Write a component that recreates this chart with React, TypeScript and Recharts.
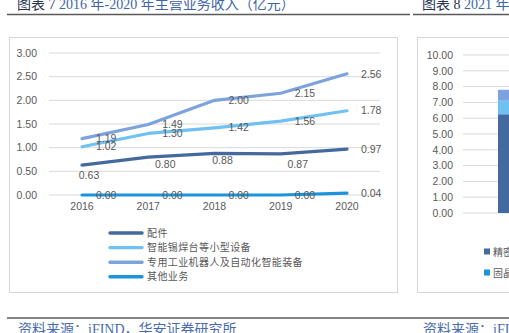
import React from 'react';
import { LineChart, Line, XAxis, YAxis, CartesianGrid, BarChart, Bar } from 'recharts';

const years = ['2016', '2017', '2018', '2019', '2020'];
const peijian = [0.63, 0.8, 0.88, 0.87, 0.97];
const xiaoxing = [1.02, 1.3, 1.42, 1.56, 1.78];
const jiqiren = [1.19, 1.49, 2.0, 2.15, 2.56];
const qita = [0.0, 0.0, 0.0, 0.0, 0.04];
const yTicks = [0, 0.5, 1, 1.5, 2, 2.5, 3];

const seriesNames = ['配件', '智能锡焊台等小型设备', '专用工业机器人及自动化智能装备', '其他业务'];
const seriesKeys = ['peijian', 'xiaoxing', 'jiqiren', 'qita'];
const seriesColors = ['#44699E', '#6EC1F2', '#7DA3DE', '#1C94DB'];

// right (partially visible) chart
const rightCategory = ['2021H1'];
const rightA = [6.25];
const rightB = [0.85];
const rightC = [0.7];
const rightTicks = [0, 1, 2, 3, 4, 5, 6, 7, 8, 9, 10];
const rightLegend = ['精密焊接设备', '固晶设备'];

const data = years.map((y, i) => ({
  year: y,
  peijian: peijian[i],
  xiaoxing: xiaoxing[i],
  jiqiren: jiqiren[i],
  qita: qita[i],
}));

const rightData = rightCategory.map((c, i) => ({ cat: c, a: rightA[i], b: rightB[i], c: rightC[i] }));

const TXT = '#595959';
const NUMFONT = '"Liberation Sans", Arial, sans-serif';
const CJK = '"Liberation Serif", "Noto Sans CJK SC", serif';

// label offsets for the 配件 series (below the line), index-based
const peijianOffsets: [number, number][] = [[7, 10], [17, 7], [8, 7], [17, 11]];

const makeLabel = (below: boolean) => (props: any) => {
  const { x, y, value, index } = props;
  const txt = Number(value).toFixed(2);
  if (below && index < peijianOffsets.length) {
    const [dx, dy] = peijianOffsets[index];
    return (
      <text key={index} x={x + dx} y={y + dy} dy="0.35em" textAnchor="middle" fontSize={10.5} fill={TXT} fontFamily={NUMFONT}>
        {txt}
      </text>
    );
  }
  return (
    <text key={index} x={x + 14} y={y} dy="0.35em" textAnchor="start" fontSize={10.5} fill={TXT} fontFamily={NUMFONT}>
      {txt}
    </text>
  );
};

export default function App() {
  return (
    <div style={{ position: 'absolute', left: 0, top: 0, width: 509, height: 333, overflow: 'hidden', background: '#fff' }}>
      {/* boxes */}
      <div style={{ position: 'absolute', left: 9, top: 37, width: 387, height: 254, border: '1px solid #D6D6D6' }} />
      <div style={{ position: 'absolute', left: 417, top: 37, width: 200, height: 254, border: '1px solid #D6D6D6' }} />

      <div style={{ position: 'absolute', left: 9, top: 37 }}>
        <LineChart width={389} height={256} data={data} margin={{ top: 16, right: 18, left: 0, bottom: 68 }}>
          <CartesianGrid vertical={false} stroke="#D9D9D9" strokeWidth={1} />
          <XAxis
            dataKey="year"
            axisLine={false}
            tickLine={false}
            padding={{ left: 33, right: 33 }}
            tick={{ fill: TXT, fontSize: 10.5, fontFamily: NUMFONT }}
          />
          <YAxis
            domain={[0, 3]}
            ticks={yTicks}
            width={40}
            tickMargin={6}
            axisLine={false}
            tickLine={false}
            tickFormatter={(v: number) => v.toFixed(2)}
            tick={{ fill: TXT, fontSize: 10.5, fontFamily: NUMFONT }}
          />
          {seriesKeys.map((k, i) => (
            <Line
              key={k}
              type="linear"
              dataKey={k}
              name={seriesNames[i]}
              stroke={seriesColors[i]}
              strokeWidth={3.2}
              strokeLinecap="round"
              strokeLinejoin="round"
              dot={false}
              isAnimationActive={false}
              label={makeLabel(i === 0)}
            />
          ))}
        </LineChart>
      </div>

      <div style={{ position: 'absolute', left: 417, top: 37 }}>
        <BarChart width={200} height={256} data={rightData} margin={{ top: 18, right: 14, left: 0, bottom: 80 }}>
          <CartesianGrid vertical={false} stroke="#D9D9D9" />
          <XAxis dataKey="cat" hide />
          <YAxis
            domain={[0, 10]}
            ticks={rightTicks}
            interval={0}
            width={46}
            tickMargin={4}
            axisLine={false}
            tickLine={false}
            tickFormatter={(v: number) => v.toFixed(2)}
            tick={{ fill: TXT, fontSize: 10.5, fontFamily: NUMFONT }}
          />
          <Bar dataKey="a" stackId="s" fill="#44699E" barSize={70} isAnimationActive={false} />
          <Bar dataKey="b" stackId="s" fill="#6EC1F2" barSize={70} isAnimationActive={false} />
          <Bar dataKey="c" stackId="s" fill="#7DA3DE" barSize={70} isAnimationActive={false} />
        </BarChart>
      </div>

      <svg width={509} height={333} style={{ position: 'absolute', left: 0, top: 0, pointerEvents: 'none' }}>
        {/* titles */}
        <text x={17} y={8.5} fontSize={14} fontFamily={CJK}>
          <tspan fill="#27344F">图表 7 </tspan>
          <tspan fill="#4065A8">2016 年-2020 年主营业务收入（亿元）</tspan>
        </text>
        <text x={422} y={8.5} fontSize={14} fontFamily={CJK}>
          <tspan fill="#27344F">图表 8 </tspan>
          <tspan fill="#4065A8">2021 年上半年主营业务收入构成</tspan>
        </text>
        <line x1={7} x2={410} y1={14.5} y2={14.5} stroke="#5A5A5A" strokeWidth={1.6} />
        <line x1={413} x2={509} y1={14.5} y2={14.5} stroke="#5A5A5A" strokeWidth={1.6} />

        {/* main legend */}
        {seriesNames.map((n, i) => (
          <g key={n}>
            <line x1={110} x2={142} y1={233 + i * 14.6} y2={233 + i * 14.6} stroke={seriesColors[i]} strokeWidth={3.4} strokeLinecap="round" />
            <text x={147} y={233 + i * 14.6} dy="0.36em" fontSize={10} letterSpacing={0.4} fill={TXT} fontFamily={CJK}>
              {n}
            </text>
          </g>
        ))}

        {/* right legend (partially visible) */}
        {rightLegend.map((n, i) => (
          <g key={n}>
            <rect x={484} y={248.5 + i * 21} width={6} height={6} fill={i === 0 ? '#44699E' : '#1C94DB'} />
            <text x={493} y={252 + i * 21} dy="0.36em" fontSize={10} fill={TXT} fontFamily={CJK}>
              {n}
            </text>
          </g>
        ))}

        {/* footer */}
        <line x1={7} x2={509} y1={318} y2={318} stroke="#5A5A5A" strokeWidth={1.6} />
        <text x={18} y={334} fontSize={14} fill="#4A6CAE" fontFamily={CJK}>资料来源：iFIND，华安证券研究所</text>
        <text x={423} y={334} fontSize={14} fill="#4A6CAE" fontFamily={CJK}>资料来源：iFIND，华安证券研究所</text>
      </svg>
    </div>
  );
}
